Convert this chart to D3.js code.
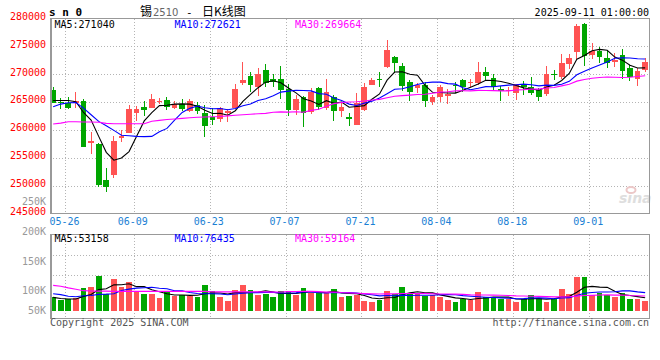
<!DOCTYPE html>
<html>
<head>
<meta charset="utf-8">
<script src="https://cdn.jsdelivr.net/npm/d3@7"></script>
<style>
  body { margin: 0; background: #fff; }
  text { font-family: "DejaVu Sans Mono", "Liberation Mono", monospace; font-size: 10px; }
</style>
</head>
<body>
<div id="chart"></div>
<script>
// trading days shown (05-22 .. 09-10)
const dates = [
  "05-22","05-23","05-26","05-27","05-28","05-29","05-30",
  "06-03","06-04","06-05","06-06","06-09","06-10","06-11","06-12","06-13",
  "06-16","06-17","06-18","06-19","06-20","06-23","06-24","06-25","06-26","06-27","06-30",
  "07-01","07-02","07-03","07-04","07-07","07-08","07-09","07-10","07-11",
  "07-14","07-15","07-16","07-17","07-18","07-21","07-22","07-23","07-24","07-25",
  "07-28","07-29","07-30","07-31","08-01","08-04","08-05","08-06","08-07","08-08",
  "08-11","08-12","08-13","08-14","08-15","08-18","08-19","08-20","08-21","08-22",
  "08-25","08-26","08-27","08-28","08-29","09-01","09-02","09-03","09-04","09-05",
  "09-08","09-09","09-10"
];

const open = [
  267200,265000,264840,264840,265250,257700,257570,251130,251970,258530,
  259400,262980,264180,264050,265100,265430,264000,264750,263500,264540,
  263050,262300,262000,263050,264000,268500,269720,267800,270800,269200,
  269180,267340,263520,266020,263230,267520,264050,265900,263340,262270,
  261000,263520,268110,269100,271280,273060,271510,268700,267460,268110,
  265000,265900,266200,268100,268900,268500,268420,270440,269300,267400,
  266920,266630,268290,267700,267220,266500,270000,269600,271870,273960,
  279020,273470,274250,272880,272280,273470,271100,269180,270800
];
const high = [
  267700,265700,265900,266900,265560,259600,257600,253150,259000,260070,
  264480,264230,265130,266380,265800,265900,265300,265600,265600,265000,
  264500,264000,264200,263820,268300,272170,270440,271100,271870,270100,
  271500,268300,266320,266100,267520,267700,269130,266320,264840,263050,
  266630,268520,269420,270440,276160,273300,272100,269000,268520,268700,
  266300,268000,267300,268600,269200,269200,272280,271280,270080,267820,
  267700,268290,268880,269600,267500,271570,270800,273650,273650,279020,
  279250,275670,274960,274370,273770,274490,271690,271100,272880
];
const low = [
  264800,263800,263850,264000,256900,255780,249830,248860,251430,257800,
  259400,261550,262450,264000,264600,263600,263800,263400,263200,262900,
  258700,260900,261500,261380,263900,268100,266800,266200,267700,267800,
  265600,262450,262750,260480,262930,263640,263640,261550,262270,260660,
  260840,263340,268000,267800,271100,270200,266920,265300,266630,264130,
  264500,265100,264700,266600,266900,267700,268100,269000,266920,265300,
  266150,265430,266320,266320,265130,266150,269000,269130,270920,272700,
  271510,272700,272100,271100,271390,269130,268880,267940,270500
];
const close = [
  264850,264800,264050,265130,256980,258100,250110,249750,258100,259000,
  263770,263820,263520,265560,265300,264130,264750,263770,265300,263340,
  260660,261850,264000,263470,267400,269000,268110,270030,268420,268600,
  267220,263520,265610,263050,266740,264130,266860,263340,264130,261980,
  264840,267640,269000,268900,274370,272110,267930,266740,268060,265250,
  265900,267700,266400,267900,267800,268700,270440,269780,267700,266920,
  267220,268290,267700,266630,265910,270030,269900,271990,272880,278710,
  273350,274190,273170,272100,272580,270670,269600,270670,272280
];
const volume = [
  62000,47600,52000,55000,99600,104000,151500,72000,138500,102600,
  125500,88000,72000,73600,57700,81000,63500,69000,66000,62000,
  112500,86600,62000,44600,91000,112500,91000,69000,73600,62000,
  86600,86600,69000,98000,76600,76600,81000,94000,62000,66000,
  69000,44600,39000,47600,88000,72000,105000,79000,73600,65000,
  69000,62000,47600,40000,52000,47600,82000,59000,59000,52000,
  52000,39000,52000,69000,55000,40000,50600,94000,73600,148500,
  148500,69000,76600,69000,62000,79000,50600,50600,43300
];

// averages before a full window exists
const ma5Head = [265300,265300,265300,265100];
const ma10Head = [264180,264660,264900,264950,263950,262750,261560,260780,259950];
const ma30Head = [
  261100,261250,261500,261500,261450,261450,261400,261200,261150,261150,
  261150,261150,261150,261600,261750,261900,262000,262100,262200,262300,
  262350,262400,262450,262550,262650,262750,262850,262930,263000
];
const vma5Head = [59000,54000,52000,52000];
const vma10Head = [75000,71000,64000,62000,66000,67000,72000,73000,75000];
const vma30Head = [
  111000,107000,100000,94000,88000,86600,86000,86000,85000,85000,
  85000,85000,85000,85000,85000,85000,85000,85000,85000,85000,
  85000,83000,83000,83000,83000,83000,83000,83000,83000
];

const priceTicks = [245000,250000,255000,260000,265000,270000,275000,280000];
const dateTicks = ["05-26","06-09","06-23","07-07","07-21","08-04","08-18","09-01"];
const volLabels = ["250K","200K","150K","100K","50K"];

const width = 660, height = 360;
const left = 50, right = 649;
const mainTop = 18.5, mainBottom = 213.8;
const volTop = 234.5, volBottom = 318;
const RED = "#ff5353", GREEN = "#00a600";

function movingAvg(values, n, head) {
  return values.map((v, i) => i < n - 1 ? head[i] : d3.mean(values.slice(i - n + 1, i + 1)));
}

const svg = d3.select("#chart").append("svg")
  .attr("width", width)
  .attr("height", height);

const x = d3.scaleBand().domain(dates).range([50.3, 648]).paddingInner(0.25);
const y = d3.scaleLinear().domain([245000, 280000]).range([mainBottom, mainTop]);
const yVol = d3.scaleLinear().domain([0, 100000]).range([311, 287.9]);
const yVolLabel = d3.scaleLinear().domain([50, 100, 150, 200, 250]).range([313.3, 293.3, 264.3, 234, 204]);
const bw = x.bandwidth();
const cx = d => x(d) + bw / 2;

const bars = dates.map((d, i) => ({
  date: d, o: open[i], h: high[i], l: low[i], c: close[i], v: volume[i]
}));

// grid
const grid = svg.append("g")
  .attr("stroke", "#b4b4b4")
  .attr("stroke-dasharray", "1,2")
  .attr("shape-rendering", "crispEdges");

grid.selectAll(".hg")
  .data(priceTicks.slice(1, -1))
  .join("line")
  .attr("x1", left).attr("x2", right)
  .attr("y1", d => Math.round(y(d)) + 0.5).attr("y2", d => Math.round(y(d)) + 0.5);

grid.selectAll(".hv")
  .data([255.5, 275.5])
  .join("line")
  .attr("x1", left).attr("x2", right)
  .attr("y1", d => d).attr("y2", d => d);

grid.selectAll(".vg")
  .data(dateTicks)
  .join("line")
  .attr("x1", d => Math.round(x(d)) + 0.5).attr("x2", d => Math.round(x(d)) + 0.5)
  .attr("y1", mainTop).attr("y2", mainBottom);

grid.selectAll(".vgv")
  .data(dateTicks)
  .join("line")
  .attr("x1", d => Math.round(x(d)) + 0.5).attr("x2", d => Math.round(x(d)) + 0.5)
  .attr("y1", volTop).attr("y2", volBottom);

// watermark
const wm = svg.append("g").attr("fill", "#dedede");
wm.append("text")
  .attr("x", 619).attr("y", 203)
  .style("font-family", "DejaVu Sans")
  .style("font-size", "14px")
  .style("font-style", "italic")
  .style("font-weight", "bold")
  .text("sina");
wm.append("ellipse")
  .attr("cx", 631).attr("cy", 190).attr("rx", 4.5).attr("ry", 3)
  .attr("fill", "none").attr("stroke", "#ecc8c8").attr("stroke-width", 2);

// candles
const candle = svg.append("g").attr("shape-rendering", "crispEdges");
candle.selectAll(".wick")
  .data(bars)
  .join("line")
  .attr("x1", d => Math.floor(cx(d.date)) + 0.5)
  .attr("x2", d => Math.floor(cx(d.date)) + 0.5)
  .attr("y1", d => y(d.h))
  .attr("y2", d => y(d.l))
  .attr("stroke", d => d.c >= d.o ? RED : GREEN);

candle.selectAll(".body")
  .data(bars)
  .join("rect")
  .attr("x", d => x(d.date))
  .attr("width", bw)
  .attr("y", d => y(Math.max(d.o, d.c)))
  .attr("height", d => Math.max(1, y(Math.min(d.o, d.c)) - y(Math.max(d.o, d.c))))
  .attr("fill", d => d.c >= d.o ? RED : GREEN);

// volume bars
svg.append("g").attr("shape-rendering", "crispEdges")
  .selectAll("rect")
  .data(bars)
  .join("rect")
  .attr("x", d => x(d.date))
  .attr("width", bw)
  .attr("y", d => yVol(d.v))
  .attr("height", d => yVol(0) - yVol(d.v))
  .attr("fill", d => d.c >= d.o ? RED : GREEN);

// moving averages
const priceLine = d3.line().x((d, i) => cx(dates[i])).y(d => y(d));
const volLine = d3.line().x((d, i) => cx(dates[i])).y(d => yVol(d));

const maSets = [
  { price: movingAvg(close, 5, ma5Head), vol: movingAvg(volume, 5, vma5Head), color: "#000" },
  { price: movingAvg(close, 10, ma10Head), vol: movingAvg(volume, 10, vma10Head), color: "#0000ff" },
  { price: movingAvg(close, 30, ma30Head), vol: movingAvg(volume, 30, vma30Head), color: "#ff00ff" }
];

maSets.forEach(m => {
  svg.append("path").attr("d", priceLine(m.price))
    .attr("fill", "none").attr("stroke", m.color).attr("stroke-width", 1.1);
  svg.append("path").attr("d", volLine(m.vol))
    .attr("fill", "none").attr("stroke", m.color).attr("stroke-width", 1.1);
});

// frames
const frame = svg.append("g").attr("fill", "none").attr("stroke", "#999").attr("shape-rendering", "crispEdges");
frame.append("rect").attr("x", left + 0.5).attr("y", mainTop).attr("width", right - left).attr("height", mainBottom - mainTop);
frame.append("rect").attr("x", left + 0.5).attr("y", volTop).attr("width", right - left).attr("height", volBottom - volTop);
frame.append("line").attr("x1", left + 0.5).attr("x2", left + 0.5).attr("y1", mainTop).attr("y2", mainBottom).attr("stroke-width", 2);
frame.append("line").attr("x1", left + 0.5).attr("x2", left + 0.5).attr("y1", volTop).attr("y2", volBottom).attr("stroke-width", 2);

// price axis
svg.append("g")
  .attr("transform", "translate(46,0)")
  .call(d3.axisLeft(y).tickValues(priceTicks).tickSize(0).tickPadding(0).tickFormat(d3.format("d")))
  .call(g => g.select(".domain").remove())
  .call(g => g.selectAll("text").attr("fill", "#f00").attr("dy", "0.07em")
    .style("font-family", "DejaVu Sans Mono").style("font-size", "10px"));

// date axis
svg.append("g")
  .attr("transform", `translate(${-bw / 2 - 1},${mainBottom})`)
  .call(d3.axisBottom(x).tickValues(dateTicks).tickSize(0).tickPadding(4))
  .call(g => g.select(".domain").remove())
  .call(g => g.selectAll("text").attr("fill", "#1a7fd4")
    .style("font-family", "DejaVu Sans Mono").style("font-size", "10px"));

// volume labels
svg.append("g")
  .attr("transform", "translate(46,0)")
  .call(d3.axisLeft(yVolLabel).tickValues([250, 200, 150, 100, 50]).tickSize(0).tickPadding(0)
    .tickFormat((d, i) => volLabels[i]))
  .call(g => g.select(".domain").remove())
  .call(g => g.selectAll("text").attr("fill", "#999").attr("dy", "0")
    .style("font-family", "DejaVu Sans Mono").style("font-size", "10px"));

// header
svg.append("text").attr("x", 49).attr("y", 15.5)
  .style("font-weight", "bold").style("font-size", "11px").text("s n 0");

const titleParts = [
  { x: 140, t: "锡", c: "#000", f: "'Noto Sans CJK SC', sans-serif", s: "12px" },
  { x: 153, t: "2510", c: "#666", f: "DejaVu Sans", s: "10px" },
  { x: 186, t: "-", c: "#000", f: "DejaVu Sans Mono", s: "11px" },
  { x: 202, t: "日K线图", c: "#000", f: "'Noto Sans CJK SC', sans-serif", s: "12px" }
];
svg.selectAll(".title").data(titleParts).join("text")
  .attr("x", d => d.x).attr("y", 16)
  .attr("fill", d => d.c)
  .style("font-family", d => d.f).style("font-size", d => d.s)
  .text(d => d.t);

svg.append("text").attr("x", 649).attr("y", 15.5).attr("text-anchor", "end")
  .text("2025-09-11 01:00:00");

const maTexts = [
  { x: 54.5, t: "MA5:271040", c: "#000" },
  { x: 174.5, t: "MA10:272621", c: "#0000ff" },
  { x: 295, t: "MA30:269664", c: "#ff00ff" }
];
const vmaTexts = [
  { x: 54.5, t: "MA5:53158", c: "#000" },
  { x: 174.5, t: "MA10:76435", c: "#0000ff" },
  { x: 295, t: "MA30:59164", c: "#ff00ff" }
];
svg.selectAll(".matext").data(maTexts).join("text")
  .attr("x", d => d.x).attr("y", 27.5).attr("fill", d => d.c).text(d => d.t);
svg.selectAll(".vmatext").data(vmaTexts).join("text")
  .attr("x", d => d.x).attr("y", 242).attr("fill", d => d.c).text(d => d.t);

// footer
svg.append("text").attr("x", 50).attr("y", 325.5).attr("fill", "#555").text("Copyright 2025 SINA.COM");
svg.append("text").attr("x", 649).attr("y", 325.5).attr("fill", "#555").attr("text-anchor", "end")
  .text("http://finance.sina.com.cn");
</script>
</body>
</html>
